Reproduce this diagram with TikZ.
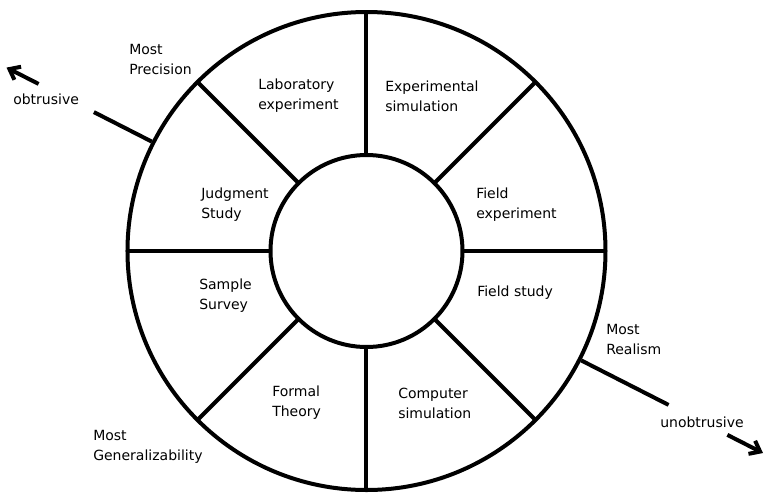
\documentclass[tikz,border=0pt]{standalone}
\usepackage{fontspec}
\setmainfont{DejaVu Sans}
\usetikzlibrary{arrows.meta}
\begin{document}
\begin{tikzpicture}[x=0.75pt,y=0.75pt,
  ring/.style={line width=3pt},
  txt/.style={anchor=west,align=left,inner sep=0pt,font=\fontsize{10.5}{15}\selectfont},
  tip/.style={-{Straight Barb[length=7pt,width=11pt]}}]
\useasboundingbox (-366.5,-246) rectangle (397.5,251);
\draw[ring] (0,0) circle (239);
\draw[ring] (0,0) circle (96);
\foreach \a in {0,45,...,315}
  \draw[ring] (\a:96) -- (\a:239);
\node[txt] (lab) at (-108.5,155) {Laboratory\\experiment};
\node[txt] (expsim) at (18.5,155) {Experimental\\simulation};
\node[txt] (judg) at (-165.5,46) {Judgment\\Study};
\node[txt] (fexp) at (109.5,46) {Field\\experiment};
\node[txt] (samp) at (-167.5,-45) {Sample\\Survey};
\node[txt] (fstud) at (110.5,-42) {Field study};
\node[txt] (form) at (-94.5,-152) {Formal\\Theory};
\node[txt] (comp) at (31.5,-152) {Computer\\simulation};
\node[txt] (prec) at (-237.5,192) {Most\\Precision};
\node[txt] (real) at (239.5,-88.5) {Most\\Realism};
\node[txt] (gen) at (-273.5,-196) {Most\\Generalizability};
\node[txt] (obt) at (-353.5,152) {obtrusive};
\node[txt] (unobt) at (293.5,-171) {unobtrusive};
\coordinate (obtA) at (153:241);
\coordinate (obtB) at (153:306);
\coordinate (obtC) at (153:368);
\coordinate (obtD) at (153:404);
\coordinate (unoA) at (-27:241);
\coordinate (unoB) at (-27:339);
\coordinate (unoC) at (-27:405);
\coordinate (unoD) at (-27:445);
\draw[ring] (obtA) -- (obtB);
\draw[ring,tip] (obtC) -- (obtD);
\draw[ring] (unoA) -- (unoB);
\draw[ring,tip] (unoC) -- (unoD);
\end{tikzpicture}
\end{document}
